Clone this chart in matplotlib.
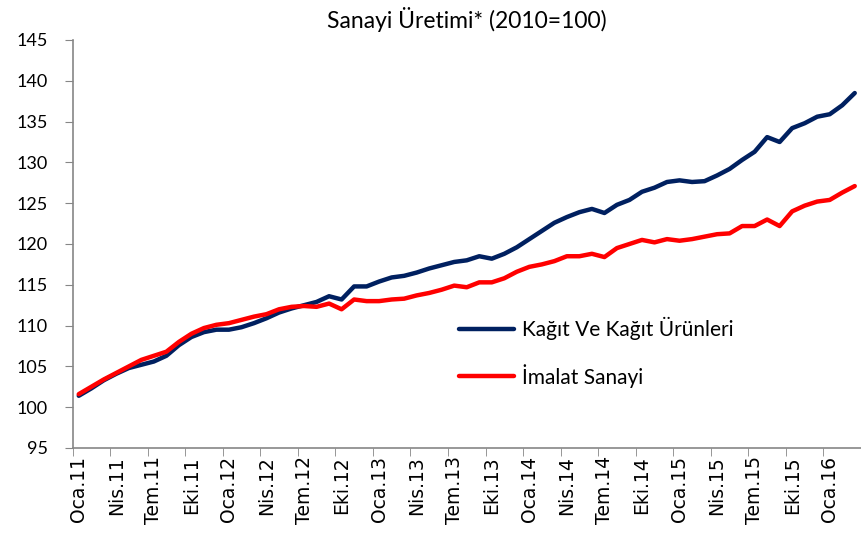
import numpy as np
import matplotlib
matplotlib.use("Agg")
from matplotlib import pyplot as plt

# monthly data, Oca.11 .. Mar.16
kagit = [101.4, 102.3, 103.3, 104.1, 104.8, 105.2, 105.6, 106.3, 107.6, 108.6,
         109.2, 109.5, 109.5, 109.8, 110.3, 110.9, 111.6, 112.1, 112.5, 112.9,
         113.6, 113.2, 114.8, 114.8, 115.4, 115.9, 116.1, 116.5, 117.0, 117.4,
         117.8, 118.0, 118.5, 118.2, 118.8, 119.6, 120.6, 121.6, 122.6, 123.3,
         123.9, 124.3, 123.8, 124.8, 125.4, 126.4, 126.9, 127.6, 127.8, 127.6,
         127.7, 128.4, 129.2, 130.3, 131.3, 133.1, 132.5, 134.2, 134.8, 135.6,
         135.9, 137.0, 138.5]
imalat = [101.6, 102.5, 103.4, 104.2, 105.0, 105.8, 106.3, 106.8, 108.0, 109.0,
          109.7, 110.1, 110.3, 110.7, 111.1, 111.4, 112.0, 112.3, 112.4, 112.3,
          112.7, 112.0, 113.2, 113.0, 113.0, 113.2, 113.3, 113.7, 114.0, 114.4,
          114.9, 114.7, 115.3, 115.3, 115.8, 116.6, 117.2, 117.5, 117.9, 118.5,
          118.5, 118.8, 118.4, 119.5, 120.0, 120.5, 120.2, 120.6, 120.4, 120.6,
          120.9, 121.2, 121.3, 122.2, 122.2, 123.0, 122.2, 124.0, 124.7, 125.2,
          125.4, 126.3, 127.1]
tick_labels = ["Oca.11", "Nis.11", "Tem.11", "Eki.11", "Oca.12", "Nis.12", "Tem.12",
               "Eki.12", "Oca.13", "Nis.13", "Tem.13", "Eki.13", "Oca.14", "Nis.14",
               "Tem.14", "Eki.14", "Oca.15", "Nis.15", "Tem.15", "Eki.15", "Oca.16"]

x = np.arange(len(kagit))
gray = "#868686"

fig = plt.figure(figsize=(8.61, 5.44), dpi=100)
ax = fig.add_axes([72.5 / 861, 96 / 544, 788.5 / 861, 408 / 544])

ax.plot(x, kagit, color="#002060", lw=3.2, label="Kağıt Ve Kağıt Ürünleri", solid_capstyle="round")
ax.plot(x, imalat, color="#FF0000", lw=3.2, label="İmalat Sanayi", solid_capstyle="round")

ax.set_xlim(-0.5, -0.5 + 788.5 / 12.6)
ax.set_ylim(95, 145)
ax.set_yticks(np.arange(95, 146, 5))
ax.tick_params(axis="y", labelsize=13, length=6, color=gray, pad=12)
for t in ax.get_yticklabels():
    t.set_fontfamily("Lato")

ax.set_xticks(x[::3])
ax.set_xticklabels(tick_labels, rotation=90, fontsize=13.5, family="DejaVu Sans")
ax.tick_params(axis="x", which="major", length=0, pad=6)
ax.set_xticks(np.arange(-0.5, len(x), 3), minor=True)
ax.tick_params(axis="x", which="minor", length=6, color=gray)

for s in ["top", "right"]:
    ax.spines[s].set_visible(False)
for s in ["left", "bottom"]:
    ax.spines[s].set_color(gray)
    ax.spines[s].set_linewidth(1.2)

ax.set_title("Sanayi Üretimi* (2010=100)", fontsize=16.5, family="Lato", pad=9)

ax.legend(loc="center left", bbox_to_anchor=(0.467, 0.235), frameon=False,
          prop={"family": "Lato", "size": 15}, handlelength=2.6,
          labelspacing=1.15, handletextpad=0.4)

fig.savefig("out.png", dpi=100)
